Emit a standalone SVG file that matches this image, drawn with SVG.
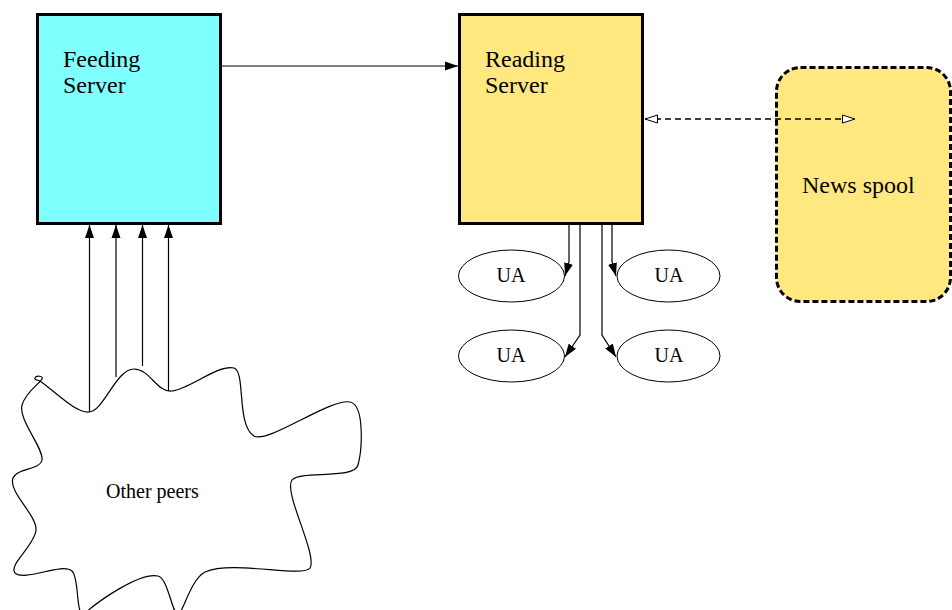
<svg xmlns="http://www.w3.org/2000/svg" width="952" height="610" viewBox="0 0 952 610">
  <style>
    .box { stroke: #000; stroke-width: 3; }
    .lbl { font-family: "Liberation Serif", "Times New Roman", serif; fill: #000; }
    .big { font-size: 24px; }
    .small { font-size: 20px; }
    .edge { fill: none; stroke: #000; stroke-width: 1.2; }
    .ua { fill: #fff; stroke: #000; stroke-width: 1; }
  </style>
  <defs>
    <marker id="solid" markerUnits="userSpaceOnUse" markerWidth="14" markerHeight="10" refX="13" refY="5" orient="auto">
      <path d="M0,0.5 L13,5 L0,9.5 Z" fill="#000"/>
    </marker>
    <marker id="open" markerUnits="userSpaceOnUse" markerWidth="14" markerHeight="10" refX="13" refY="5" orient="auto-start-reverse">
      <path d="M0.5,1 L13,5 L0.5,9 Z" fill="#fff" stroke="#000" stroke-width="1"/>
    </marker>
  </defs>

  <g id="feeding-server">
    <rect class="box" x="37.5" y="14.5" width="183" height="209" fill="#80ffff"/>
    <text class="lbl big" x="63" y="67">Feeding</text>
    <text class="lbl big" x="63" y="93">Server</text>
  </g>

  <g id="reading-server">
    <rect class="box" x="459.5" y="14.5" width="183" height="209" fill="#ffe880"/>
    <text class="lbl big" x="485" y="67">Reading</text>
    <text class="lbl big" x="485" y="93">Server</text>
  </g>

  <g id="news-spool">
    <rect x="776.5" y="67.5" width="174" height="234" rx="24" ry="24" fill="#ffe880" stroke="#000" stroke-width="3" stroke-dasharray="6 3"/>
    <text class="lbl big" x="802" y="193">News spool</text>
  </g>

  <g id="ua-1">
    <ellipse class="ua" cx="511.5" cy="276" rx="53" ry="26"/>
    <text class="lbl small" x="511" y="282" text-anchor="middle">UA</text>
  </g>
  <g id="ua-2">
    <ellipse class="ua" cx="668.5" cy="276" rx="51.5" ry="26"/>
    <text class="lbl small" x="669" y="282" text-anchor="middle">UA</text>
  </g>
  <g id="ua-3">
    <ellipse class="ua" cx="511.5" cy="356" rx="53" ry="26"/>
    <text class="lbl small" x="511" y="362" text-anchor="middle">UA</text>
  </g>
  <g id="ua-4">
    <ellipse class="ua" cx="668.5" cy="356" rx="51.5" ry="26"/>
    <text class="lbl small" x="669" y="362" text-anchor="middle">UA</text>
  </g>

  <g id="other-peers">
    <path fill="none" stroke="#000" stroke-width="1.2" d="M 40,381
      C 58,394 76,413 89,412
      C 104,411 116,369 134,369
      C 150,369 157,393 172,391
      C 190,389 218,364 234,368
      C 246,372 236,425 254,436
      C 268,444 330,398 350,402
      C 365,405 362,450 358,465
      C 354,480 300,470 292,480
      C 283,492 318,555 310,568
      C 303,578 232,560 205,572
      C 190,580 183,614 178,614
      C 172,614 168,578 158,576
      C 140,572 100,600 85,613
      C 75,620 80,578 72,571
      C 62,562 25,582 15,573
      C 8,565 35,545 36,530
      C 37,515 8,492 13,478
      C 17,468 40,470 42,460
      C 44,448 18,420 22,405
      C 26,392 38,385 42,379
      C 44,376 36,375 35,378
      C 34,380 38,380 40,381 Z"/>
    <text class="lbl small" x="106" y="498">Other peers</text>
  </g>

  <g id="connectors">
    <!-- feeding -> reading -->
    <line class="edge" x1="221" y1="66" x2="458" y2="66" marker-end="url(#solid)"/>
    <!-- reading <-> spool -->
    <line x1="645" y1="119" x2="855" y2="119" fill="none" stroke="#000" stroke-width="1.5" stroke-dasharray="6 4" marker-start="url(#open)" marker-end="url(#open)"/>
    <!-- peers -> feeding -->
    <line class="edge" x1="89.5" y1="412" x2="89.5" y2="225" marker-end="url(#solid)"/>
    <line class="edge" x1="116" y1="377" x2="116" y2="225" marker-end="url(#solid)"/>
    <line class="edge" x1="142.5" y1="366" x2="142.5" y2="225" marker-end="url(#solid)"/>
    <line class="edge" x1="168.5" y1="391" x2="168.5" y2="225" marker-end="url(#solid)"/>
    <!-- reading -> user agents -->
    <polyline class="edge" points="569,225 569,262 565,276" marker-end="url(#solid)"/>
    <polyline class="edge" points="580,225 580,335 565,357" marker-end="url(#solid)"/>
    <polyline class="edge" points="602,225 602,335 616,357" marker-end="url(#solid)"/>
    <polyline class="edge" points="612,225 612,262 616,276" marker-end="url(#solid)"/>
  </g>
</svg>
